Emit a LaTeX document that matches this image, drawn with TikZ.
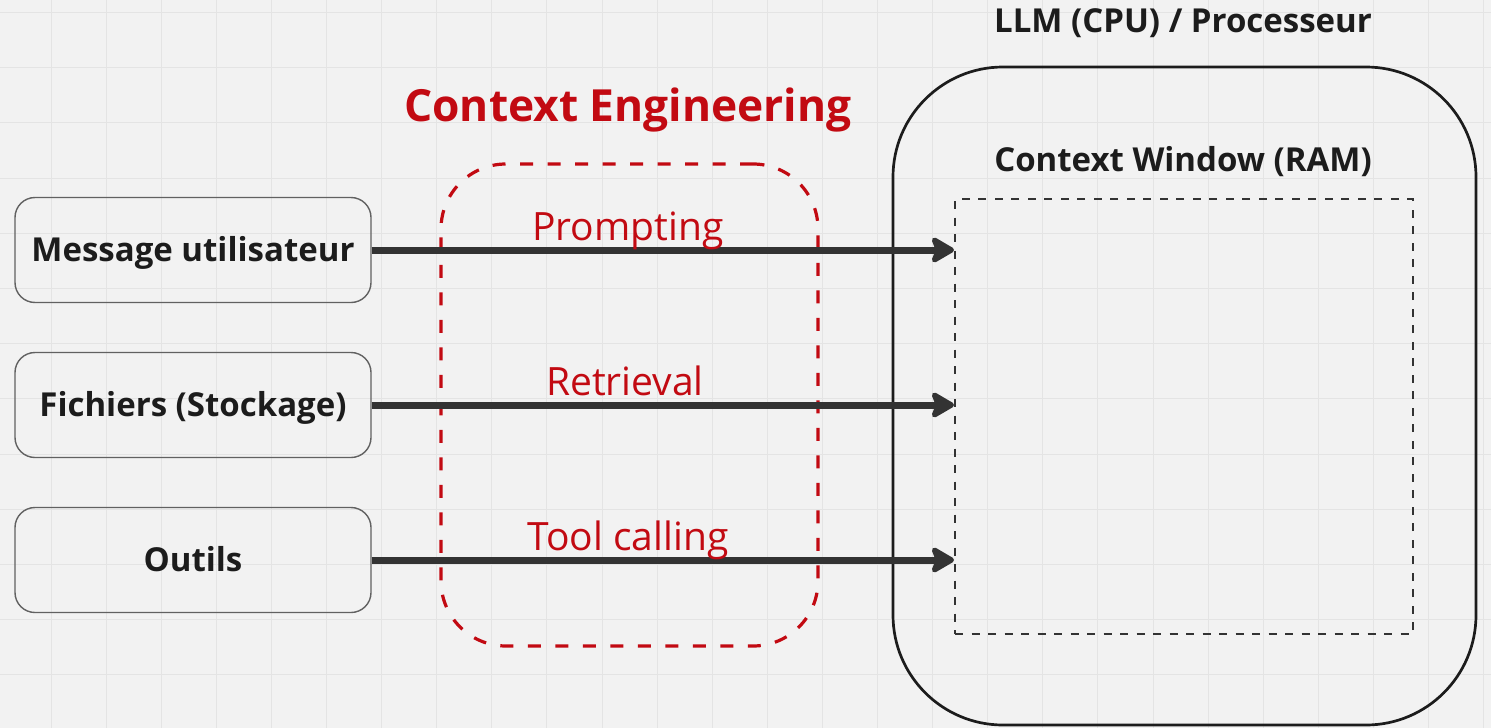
\documentclass[tikz,border=0pt]{standalone}
\usepackage{fontspec}
\setmainfont{Open Sans}
\usetikzlibrary{arrows.meta}
\definecolor{bgc}{HTML}{F2F2F2}
\definecolor{gridc}{HTML}{E4E4E4}
\definecolor{redc}{HTML}{C20A12}
\definecolor{arrc}{HTML}{333333}
\definecolor{txtc}{HTML}{1C1C1C}
\begin{document}
\begin{tikzpicture}[x=1pt,y=-1pt,
  srcbox/.style={draw=black!62, line width=1.4pt, rounded corners=20pt,
    minimum width=356pt, minimum height=105pt, inner sep=0pt,
    font=\fontsize{33}{39}\selectfont\bfseries, text=txtc,
    text height=23.5pt, text depth=0pt},
  title/.style={anchor=base, inner sep=0pt, font=\fontsize{33}{39}\selectfont\bfseries, text=txtc},
  redlabel/.style={anchor=base, inner sep=0pt, font=\fontsize{39}{45}\selectfont, text=redc},
  flow/.style={draw=arrc, line width=7pt,
    -{Stealth[length=27pt, width=31pt, inset=6pt, round]}},
]
\fill[bgc] (0,0) rectangle (1491,728);
\useasboundingbox (0,0) rectangle (1491,728);
\foreach \i in {0,...,26} \draw[gridc, line width=1pt] ({51+55.1*\i},0) -- ({51+55.1*\i},728);
\foreach \j in {0,...,12} \draw[gridc, line width=1pt] (0,{12.5+55.2*\j}) -- (1491,{12.5+55.2*\j});

% LLM container
\node[draw=txtc, line width=2.7pt, rounded corners=110pt,
      minimum width=583pt, minimum height=658pt, inner sep=0pt] (llm) at (1184.5,396) {};
\node[title] (llmt) at (1183,32) {LLM (CPU) / Processeur};
\node[title] (cwt) at (1183,171) {Context Window (RAM)};
\node[draw=arrc, line width=2pt, dash pattern=on 8pt off 8.5pt,
      minimum width=458pt, minimum height=435pt, inner sep=0pt] (cw) at (1184,416.5) {};

% Context engineering zone
\node[draw=redc, line width=3.2pt, dash pattern=on 13pt off 14.5pt, rounded corners=65pt,
      minimum width=377pt, minimum height=482pt, inner sep=0pt] (ce) at (629.5,405) {};
\node[anchor=base, inner sep=0pt, font=\fontsize{44.3}{52}\selectfont\bfseries, text=redc]
  (cet) at (628,121) {Context Engineering};

% sources
\node[srcbox] (msg) at (193,250) {Message utilisateur};
\node[srcbox] (fic) at (193,405) {Fichiers (Stockage)};
\node[srcbox] (out) at (193,560) {Outils};

% arrows
\draw[flow] (msg.east) -- (cw.west |- msg.east);
\draw[flow] (fic.east) -- (cw.west |- fic.east);
\draw[flow] (out.east) -- (cw.west |- out.east);

\node[redlabel] (lp) at (628,240) {Prompting};
\node[redlabel] (lr) at (625,395) {Retrieval};
\node[redlabel] (lt) at (628,550) {Tool calling};
\end{tikzpicture}
\end{document}
